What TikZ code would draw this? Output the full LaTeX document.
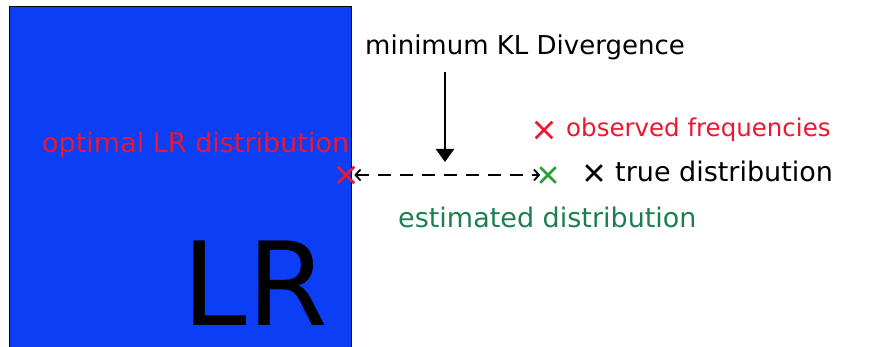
\documentclass[tikz,border=0pt]{standalone}
\usepackage{fontspec}
\setmainfont{DejaVu Sans}
\usetikzlibrary{arrows.meta,shapes.misc}
\definecolor{KLblue}{RGB}{12,62,245}
\definecolor{KLred}{RGB}{236,22,48}
\definecolor{KLgreen}{RGB}{28,128,78}
\definecolor{KLxgreen}{RGB}{40,160,50}
\tikzset{KLlab/.style={font=\fontsize{27}{30}\selectfont,inner sep=0pt},
         KLx/.style={cross out,draw,line width=2.6pt,minimum size=13pt,inner sep=0pt},
         KLdash/.style={dashed,line width=1.8pt,dash pattern=on 13pt off 9pt}}
\begin{document}
\begin{tikzpicture}[x=1pt,y=-1pt]
    \useasboundingbox (0,0) rectangle (890,347);
    \fill[KLblue] (9,6) rectangle (351,347); \draw[line width=0.6pt] (9,347) -- (9,6) -- (351,6) -- (351,347);
    \node[inner sep=0pt,font=\fontsize{116}{118}\selectfont,anchor=base] (lr) at (255,325) {LR};
    \node[KLlab,text=KLred,anchor=base west] (optlab) at (42,153) {optimal LR distribution};
    \node[KLlab,font=\fontsize{26}{30}\selectfont,anchor=base] (title) at (525,55) {minimum KL Divergence};
    \node[KLlab,font=\fontsize{24.5}{30}\selectfont,text=KLred,anchor=base west] (obslab) at (566,137) {observed frequencies};
    \node[KLlab,anchor=base west] (truelab) at (615,182) {true distribution};
    \node[KLlab,text=KLgreen,anchor=base west] (estlab) at (398,227) {estimated distribution};
    \node[KLx,KLred,minimum size=14pt] (opt) at (346,175) {};
    \node[KLx,KLxgreen] (est) at (548,175) {};
    \node[KLx] (true) at (594,173) {};
    \node[KLx,KLred,minimum size=14pt] (obs) at (544,130) {};
    \coordinate (top) at (445,72); \coordinate (tip) at (445,162);
    \draw[line width=2.2pt,-{Triangle[width=18pt,length=13pt]}] (top) -- (tip);
    \draw[KLdash,{Straight Barb[length=5pt,width=11pt]}-{Straight Barb[length=5pt,width=11pt]}] (opt) -- (est);
  \end{tikzpicture}
\end{document}
